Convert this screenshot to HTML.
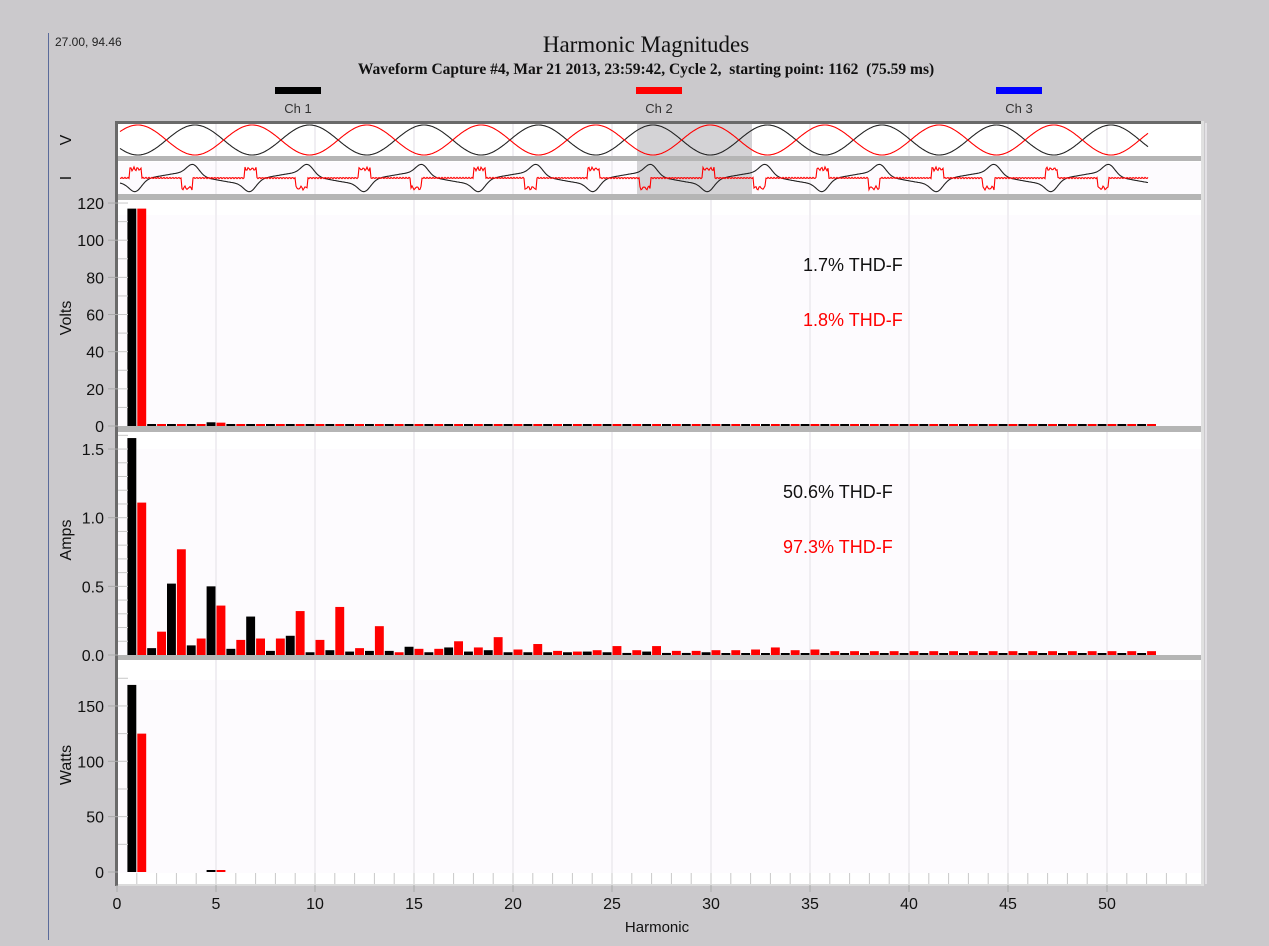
<!DOCTYPE html>
<html><head><meta charset="utf-8"><style>
html,body{margin:0;padding:0;background:#cbc9cc;}
body{width:1269px;height:946px;overflow:hidden;position:relative;font-family:"Liberation Sans",sans-serif;}
svg{position:absolute;left:0;top:0;}
</style></head><body>
<svg id="s" width="1269" height="946" xmlns="http://www.w3.org/2000/svg">
<line x1="48.5" y1="33" x2="48.5" y2="940" stroke="#5a6a9a" stroke-width="1"/>
<text x="55" y="46" font-size="12" fill="#222" font-family="Liberation Sans,sans-serif">27.00, 94.46</text>
<text x="646" y="52" font-size="23" text-anchor="middle" font-family="Liberation Serif,serif" fill="#111">Harmonic Magnitudes</text>
<text x="646" y="74" font-size="15.5" font-weight="bold" text-anchor="middle" font-family="Liberation Serif,serif" fill="#111" style="white-space:pre" xml:space="preserve">Waveform Capture #4, Mar 21 2013, 23:59:42, Cycle 2,  starting point: 1162  (75.59 ms)</text>
<rect x="275" y="87" width="46" height="7" fill="#000"/>
<rect x="636" y="87" width="46" height="7" fill="#f00"/>
<rect x="996" y="87" width="46" height="7" fill="#00f"/>
<text x="298" y="113" font-size="13" text-anchor="middle" fill="#333">Ch 1</text>
<text x="659" y="113" font-size="13" text-anchor="middle" fill="#333">Ch 2</text>
<text x="1019" y="113" font-size="13" text-anchor="middle" fill="#333">Ch 3</text>
<g id="g"></g>
</svg>
<script>
const NS="http://www.w3.org/2000/svg",g=document.getElementById('g');
function el(t,a,txt){const e=document.createElementNS(NS,t);for(const k in a)e.setAttribute(k,a[k]);if(txt!==undefined)e.textContent=txt;g.appendChild(e);return e;}
const X0=117,PX=19.8,L=117,R=1201;
el('rect',{x:L,y:121,width:R-L+2,height:765,fill:'#fff'});
[[162,195],[215,426],[449,655],[680,873]].forEach(p=>el('rect',{x:L,y:p[0],width:R-L,height:p[1]-p[0],fill:'#fdfbfe'}));
for(let h=5;h<=55;h+=5){const x=X0+h*PX;el('line',{x1:x,y1:123,x2:x,y2:884,stroke:'#ebe9ed','stroke-width':1.5});}
el('rect',{x:637,y:122,width:115,height:76,fill:'#d4d3d6'});
[[156,5],[194,6],[426,6],[655,5]].forEach(s=>el('rect',{x:L,y:s[0],width:R-L+2,height:s[1],fill:'#b5b5b5'}));
el('rect',{x:L,y:873,width:R-L,height:12,fill:'#fff'});
for(let h=1;h<=54;h++){const x=X0+h*PX;el('line',{x1:x,y1:873,x2:x,y2:884,stroke:'#c8c8c8','stroke-width':1});}
el('line',{x1:L,y1:885,x2:R+2,y2:885,stroke:'#dcdcdc','stroke-width':2});
el('rect',{x:115,y:121,width:R-115+2,height:3,fill:'#6a6a6a'});
el('rect',{x:115,y:121,width:3,height:765,fill:'#6a6a6a'});
el('rect',{x:R,y:121,width:3,height:765,fill:'#e0e0e0'});
const P=114.5;
function path(f,col){let d='';for(let x=120;x<=1148;x++){d+=(x==120?'M':'L')+x+','+f(x).toFixed(1);}el('path',{d:d,fill:'none',stroke:col,'stroke-width':1.1});}
path(x=>140-15*Math.cos(2*Math.PI*(x-195)/P),'#222');
path(x=>140+15*Math.cos(2*Math.PI*(x-195)/P),'#f00');
function bump(x,c,w){let d=x-c;return Math.exp(-d*d/(2*w*w));}
path(x=>{let ph=((x-195)%P+P)%P;let d=ph>P/2?ph-P:ph;let v=10*bump(d,-2,6)+4*bump(d,-10,14);let d2=((x-252)%P+P)%P;d2=d2>P/2?d2-P:d2;v-=10*bump(d2,-2,6)+4*bump(d2,-10,14);return 178-v+1.5*Math.sin(2*Math.PI*(x-195)/P);},'#222');
path(x=>{let ph=((x-130)%P+P)%P;let v=0;if(ph<12)v=9+1.5*Math.sin(x*1.7);else if(Math.abs(ph-57)<6)v=-10+1.5*Math.sin(x*1.3);return 178-v+0.6*Math.sin(x*2.1);},'#f00');
function bars(zero,scale,blk,red){blk.forEach((v,i)=>{if(v<=0)return;const h=i+1,hh=Math.max(v*scale,2);el('rect',{x:X0+(h-0.5)*PX+0.5,y:zero-hh,width:PX/2-1,height:hh,fill:'#000'});});
red.forEach((v,i)=>{if(v<=0)return;const h=i+1,hh=Math.max(v*scale,2);el('rect',{x:X0+h*PX+0.5,y:zero-hh,width:PX/2-1,height:hh,fill:'#f00'});});}
const N=52;
let vb=[],vr=[];for(let i=0;i<N;i++){vb.push(0.4);vr.push(0.4);}vb[0]=117;vr[0]=117;vb[4]=2;vr[4]=1.8;vb[8]=1;vb[10]=1;
bars(426,1.858,vb,vr);
let ab=[1.58,0.05,0.52,0.07,0.50,0.045,0.28,0.03,0.14,0.02,0.035,0.025,0.03,0.03,0.06,0.02,0.055,0.025,0.035,0.02,0.02,0.02,0.02,0.025,0.02,0.015,0.025,0.015,0.015,0.02];
let ar=[1.11,0.17,0.77,0.12,0.36,0.11,0.12,0.12,0.32,0.11,0.35,0.05,0.21,0.02,0.045,0.045,0.10,0.055,0.13,0.04,0.08,0.03,0.025,0.035,0.065,0.035,0.065,0.03,0.03,0.035,0.035,0.04,0.055,0.035,0.04];
while(ab.length<N)ab.push(0.012);while(ar.length<N)ar.push(0.028);
bars(655,137.3,ab,ar);
let wb=new Array(N).fill(0),wr=new Array(N).fill(0);wb[0]=169;wr[0]=125;wb[4]=1;wr[4]=1;
bars(872,1.107,wb,wr);
function yaxis(zero,scale,ticks,minor,top){ticks.forEach(t=>{const y=zero-t[0]*scale;el('line',{x1:108,y1:y,x2:118,y2:y,stroke:'#aaa'});el('text',{x:104,y:y+6,'font-size':16,'text-anchor':'end',fill:'#111'},t[1]);});
for(let v=minor;zero-v*scale>top;v+=minor){const y=zero-v*scale;el('line',{x1:118,y1:y,x2:128,y2:y,stroke:'#c8c8c8'});}}
yaxis(426,1.858,[[0,'0'],[20,'20'],[40,'40'],[60,'60'],[80,'80'],[100,'100'],[120,'120']],10,200);
yaxis(655,137.3,[[0,'0.0'],[0.5,'0.5'],[1,'1.0'],[1.5,'1.5']],0.1,432);
yaxis(872,1.107,[[0,'0'],[50,'50'],[100,'100'],[150,'150']],25,662);
[['Volts',318],['Amps',540],['Watts',765]].forEach(t=>el('text',{x:0,y:0,'font-size':16,'text-anchor':'middle',fill:'#111',transform:`translate(71,${t[1]}) rotate(-90)`},t[0]));
el('text',{x:0,y:0,'font-size':16,'text-anchor':'middle',fill:'#111',transform:'translate(71,140) rotate(-90)'},'V');
el('text',{x:0,y:0,'font-size':16,'text-anchor':'middle',fill:'#111',transform:'translate(71,178) rotate(-90)'},'I');
for(let h=0;h<=50;h+=5){const x=X0+h*PX;el('line',{x1:x,y1:885,x2:x,y2:892,stroke:'#aaa'});el('text',{x:x,y:909,'font-size':16,'text-anchor':'middle',fill:'#111'},String(h));}
el('text',{x:657,y:932,'font-size':15,'text-anchor':'middle',fill:'#111'},'Harmonic');
el('text',{x:803,y:271,'font-size':18,fill:'#111'},'1.7% THD-F');
el('text',{x:803,y:326,'font-size':18,fill:'#f00'},'1.8% THD-F');
el('text',{x:783,y:498,'font-size':18,fill:'#111'},'50.6% THD-F');
el('text',{x:783,y:553,'font-size':18,fill:'#f00'},'97.3% THD-F');
</script>
</body></html>
